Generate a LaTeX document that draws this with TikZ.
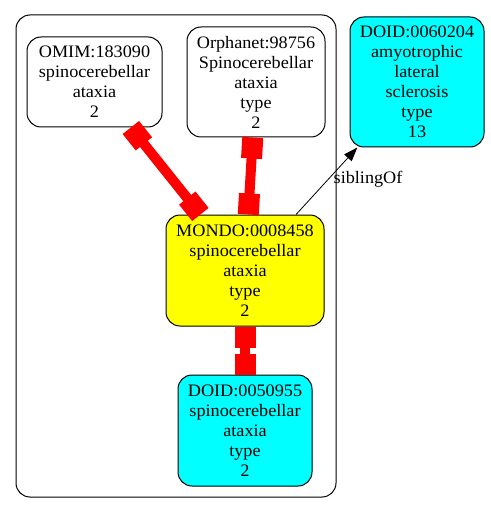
\documentclass[tikz,border=0pt]{standalone}
\usepackage{fontspec}
\setmainfont{Liberation Serif}[FakeStretch=1.04]
\usepackage{tikz}
\usetikzlibrary{arrows.meta}

\definecolor{gvcyan}{RGB}{0,255,255}
\definecolor{gvyellow}{RGB}{255,255,0}
\definecolor{gvred}{RGB}{255,0,0}

\begin{document}
\begin{tikzpicture}[
    x=1pt, y=-1pt,
    term/.style={draw, line width=1pt, rounded corners=14pt, align=center,
                 inner sep=0pt, font=\fontsize{17.5}{20}\selectfont},
    xref/.style={draw=gvred, line width=10pt,
                 {Square[length=21pt,width=21pt]}-{Square[length=21pt,width=21pt]}},
    rel/.style={draw, line width=0.8pt, -{Triangle[length=14pt,width=10pt]}}
]
    \useasboundingbox (0,0) rectangle (490,513);

    % cluster
    \draw[line width=1pt, rounded corners=14pt] (16,15) rectangle (336,497);

    \node[term, minimum width=135pt, minimum height=90pt] (OM) at (94.5,82)
        {OMIM:183090\\spinocerebellar\\ataxia\\2};
    \node[term, minimum width=138pt, minimum height=110pt] (OR) at (256,82)
        {Orphanet:98756\\Spinocerebellar\\ataxia\\type\\2};
    \node[term, fill=gvcyan, minimum width=134pt, minimum height=130pt] (DA) at (417,82)
        {DOID:0060204\\amyotrophic\\lateral\\sclerosis\\type\\13};
    \node[term, fill=gvyellow, minimum width=158pt, minimum height=111pt] (MO) at (245,270.5)
        {MONDO:0008458\\spinocerebellar\\ataxia\\type\\2};
    \node[term, fill=gvcyan, minimum width=134pt, minimum height=111pt] (DS) at (245,430.5)
        {DOID:0050955\\spinocerebellar\\ataxia\\type\\2};

    \draw[xref] (OM) -- (MO);
    \draw[xref] (OR) -- (MO);
    \draw[xref] (MO) -- (DS);
    \draw[rel] (MO) -- node[pos=0.52, anchor=west, xshift=2pt,
        font=\fontsize{17.5}{20}\selectfont] {siblingOf} (DA);
\end{tikzpicture}
\end{document}
